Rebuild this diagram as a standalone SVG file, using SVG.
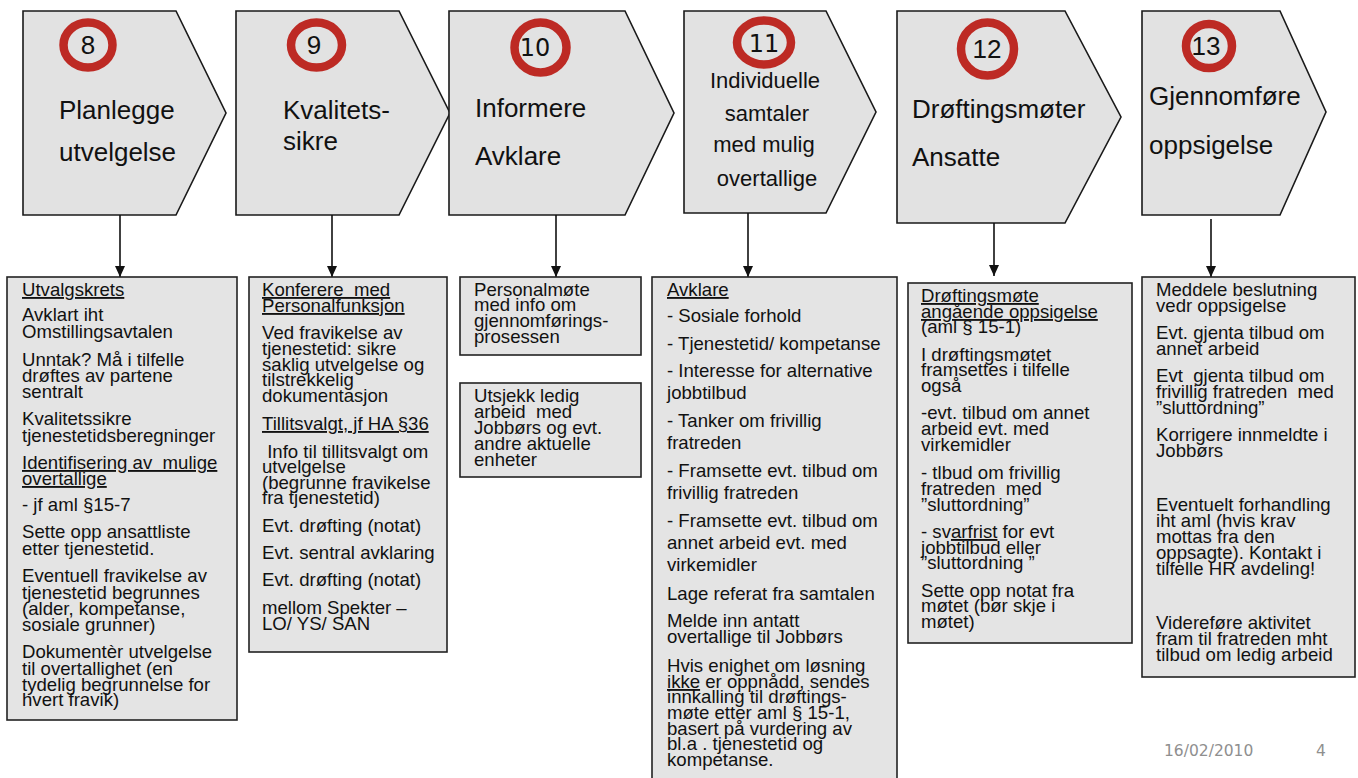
<svg xmlns="http://www.w3.org/2000/svg" width="1358" height="778" viewBox="0 0 1358 778">
<defs>
<marker id="ah" markerWidth="11" markerHeight="10" refX="11" refY="5" orient="auto" markerUnits="userSpaceOnUse" viewBox="0 0 11 10">
<path d="M0,0 L11,5 L0,10 Z" fill="#111"/>
</marker>
<style>
.chev{fill:#e2e2e2;stroke:#1a1a1a;stroke-width:1.6}
.ring{fill:none;stroke:#bd2a24;stroke-width:8.5}
.num{font-family:"Liberation Sans",Arial,sans-serif;font-size:26px;fill:#111;text-anchor:middle}
.numv{font-family:"DejaVu Sans",Verdana,sans-serif;font-size:24px;fill:#111;text-anchor:middle}
.ttl{font-family:"Liberation Sans",Arial,sans-serif;font-size:26px;fill:#111}
.ttl2{font-family:"Liberation Sans",Arial,sans-serif;font-size:22px;fill:#111;text-anchor:middle}
.box{fill:#e4e4e4;stroke:#222;stroke-width:1.6}
.bt{font-family:"Liberation Sans",Arial,sans-serif;font-size:18.6px;fill:#111;white-space:pre}
.u{text-decoration:underline}
.conn{stroke:#111;stroke-width:1.6;fill:none}
.foot{font-family:"DejaVu Sans",Verdana,sans-serif;font-size:15.5px;fill:#8f8f8f}
</style>
</defs>
<rect width="1358" height="778" fill="#ffffff"/>

<g id="step8">
<path class="chev" d="M23,11 L176,11 L226,113 L176,215 L23,215 Z"/>
<ellipse class="ring" cx="88" cy="45" rx="24.5" ry="22.5"/>
<text class="num" x="88" y="54">8</text>
<text class="ttl" x="59" y="119">Planlegge</text>
<text class="ttl" x="59" y="161">utvelgelse</text>
</g>

<g id="step9">
<path class="chev" d="M236,11 L399,11 L450,113 L399,215 L236,215 Z"/>
<ellipse class="ring" cx="316.5" cy="45" rx="25.5" ry="22.5"/>
<text class="num" x="314" y="54">9</text>
<text class="ttl" x="283" y="119">Kvalitets-</text>
<text class="ttl" x="283" y="150">sikre</text>
</g>

<g id="step10">
<path class="chev" d="M449,11 L625,11 L674,113 L625,215 L449,215 Z"/>
<ellipse class="ring" cx="540.5" cy="47.5" rx="26" ry="25"/>
<text class="numv" x="535" y="56">10</text>
<text class="ttl" x="475" y="117">Informere</text>
<text class="ttl" x="475" y="165">Avklare</text>
</g>

<g id="step11">
<path class="chev" d="M684,11 L826,11 L876,112 L826,213 L684,213 Z"/>
<ellipse class="ring" cx="764" cy="42.5" rx="27" ry="22"/>
<text class="numv" x="764" y="52">11</text>
<text class="ttl2" x="765" y="88">Individuelle</text>
<text class="ttl2" x="767" y="121">samtaler</text>
<text class="ttl2" x="764" y="152">med mulig</text>
<text class="ttl2" x="767" y="186">overtallige</text>
</g>

<g id="step12">
<path class="chev" d="M897,11 L1065,11 L1121,117 L1065,223 L897,223 Z"/>
<ellipse class="ring" cx="987.5" cy="49" rx="26.5" ry="26.5"/>
<text class="num" x="987" y="58">12</text>
<text class="ttl" x="912" y="118">Drøftingsmøter</text>
<text class="ttl" x="912" y="166">Ansatte</text>
</g>

<g id="step13">
<path class="chev" d="M1142,11 L1280,11 L1326,112 L1280,215 L1142,215 Z"/>
<ellipse class="ring" cx="1209" cy="46" rx="23" ry="22"/>
<text class="num" x="1206" y="55">13</text>
<text class="ttl" x="1149" y="105">Gjennomføre</text>
<text class="ttl" x="1149" y="154">oppsigelse</text>
</g>

<g id="connectors">
<line class="conn" x1="120" y1="215" x2="120" y2="277" marker-end="url(#ah)"/>
<line class="conn" x1="332" y1="215" x2="332" y2="277" marker-end="url(#ah)"/>
<line class="conn" x1="556" y1="215" x2="556" y2="277" marker-end="url(#ah)"/>
<line class="conn" x1="748" y1="213" x2="748" y2="277" marker-end="url(#ah)"/>
<line class="conn" x1="994" y1="223" x2="994" y2="276" marker-end="url(#ah)"/>
<line class="conn" x1="1211" y1="219" x2="1211" y2="277" marker-end="url(#ah)"/>
</g>

<g id="box8">
<rect class="box" x="7" y="277" width="230" height="443"/>
<text class="bt" x="22" y="296"><tspan class="u">Utvalgskrets</tspan></text>
<text class="bt" x="22" y="321">Avklart iht</text>
<text class="bt" x="22" y="338">Omstillingsavtalen</text>
<text class="bt" x="22" y="366">Unntak? Må i tilfelle</text>
<text class="bt" x="22" y="382">drøftes av partene</text>
<text class="bt" x="22" y="398">sentralt</text>
<text class="bt" x="22" y="425">Kvalitetssikre</text>
<text class="bt" x="22" y="442">tjenestetidsberegninger</text>
<text class="bt" x="22" y="469"><tspan class="u">Identifisering av  mulige</tspan></text>
<text class="bt" x="22" y="485"><tspan class="u">overtallige</tspan></text>
<text class="bt" x="22" y="511">- jf aml §15-7</text>
<text class="bt" x="22" y="538">Sette opp ansattliste</text>
<text class="bt" x="22" y="555">etter tjenestetid.</text>
<text class="bt" x="22" y="582">Eventuell fravikelse av</text>
<text class="bt" x="22" y="599">tjenestetid begrunnes</text>
<text class="bt" x="22" y="615">(alder, kompetanse,</text>
<text class="bt" x="22" y="631">sosiale grunner)</text>
<text class="bt" x="22" y="658">Dokumentèr utvelgelse</text>
<text class="bt" x="22" y="675">til overtallighet (en</text>
<text class="bt" x="22" y="691">tydelig begrunnelse for</text>
<text class="bt" x="22" y="706">hvert fravik)</text>
</g>

<g id="box9">
<rect class="box" x="249" y="277" width="198" height="375"/>
<text class="bt" x="262" y="296"><tspan class="u">Konferere  med</tspan></text>
<text class="bt" x="262" y="312"><tspan class="u">Personalfunksjon</tspan></text>
<text class="bt" x="262" y="339">Ved fravikelse av</text>
<text class="bt" x="262" y="355">tjenestetid: sikre</text>
<text class="bt" x="262" y="371">saklig utvelgelse og</text>
<text class="bt" x="262" y="386">tilstrekkelig</text>
<text class="bt" x="262" y="402">dokumentasjon</text>
<text class="bt" x="262" y="430"><tspan class="u">Tillitsvalgt, jf HA §36</tspan></text>
<text class="bt" x="262" y="458"> Info til tillitsvalgt om</text>
<text class="bt" x="262" y="473">utvelgelse</text>
<text class="bt" x="262" y="489">(begrunne fravikelse</text>
<text class="bt" x="262" y="504">fra tjenestetid)</text>
<text class="bt" x="262" y="532">Evt. drøfting (notat)</text>
<text class="bt" x="262" y="559">Evt. sentral avklaring</text>
<text class="bt" x="262" y="586">Evt. drøfting (notat)</text>
<text class="bt" x="262" y="614">mellom Spekter –</text>
<text class="bt" x="262" y="630">LO/ YS/ SAN</text>
</g>

<g id="box10a">
<rect class="box" x="460" y="277" width="181" height="78"/>
<text class="bt" x="474" y="296">Personalmøte</text>
<text class="bt" x="474" y="311">med info om</text>
<text class="bt" x="474" y="327">gjennomførings-</text>
<text class="bt" x="474" y="343">prosessen</text>
</g>

<g id="box10b">
<rect class="box" x="460" y="383" width="181" height="94"/>
<text class="bt" x="474" y="402">Utsjekk ledig</text>
<text class="bt" x="474" y="418">arbeid  med</text>
<text class="bt" x="474" y="434">Jobbørs og evt.</text>
<text class="bt" x="474" y="450">andre aktuelle</text>
<text class="bt" x="474" y="466">enheter</text>
</g>

<g id="box11">
<rect class="box" x="652" y="277" width="245" height="502"/>
<text class="bt" x="667" y="296"><tspan class="u">Avklare</tspan></text>
<text class="bt" x="667" y="322">- Sosiale forhold</text>
<text class="bt" x="667" y="350">- Tjenestetid/ kompetanse</text>
<text class="bt" x="667" y="377">- Interesse for alternative</text>
<text class="bt" x="667" y="399">jobbtilbud</text>
<text class="bt" x="667" y="427">- Tanker om frivillig</text>
<text class="bt" x="667" y="449">fratreden</text>
<text class="bt" x="667" y="477">- Framsette evt. tilbud om</text>
<text class="bt" x="667" y="499">frivillig fratreden</text>
<text class="bt" x="667" y="527">- Framsette evt. tilbud om</text>
<text class="bt" x="667" y="549">annet arbeid evt. med</text>
<text class="bt" x="667" y="571">virkemidler</text>
<text class="bt" x="667" y="600">Lage referat fra samtalen</text>
<text class="bt" x="667" y="627">Melde inn antatt</text>
<text class="bt" x="667" y="643">overtallige til Jobbørs</text>
<text class="bt" x="667" y="672">Hvis enighet om løsning</text>
<text class="bt" x="667" y="688"><tspan class="u">ikke</tspan> er oppnådd, sendes</text>
<text class="bt" x="667" y="703">innkalling til drøftings-</text>
<text class="bt" x="667" y="719">møte etter aml § 15-1,</text>
<text class="bt" x="667" y="735">basert på vurdering av</text>
<text class="bt" x="667" y="750">bl.a . tjenestetid og</text>
<text class="bt" x="667" y="766">kompetanse.</text>
</g>

<g id="box12">
<rect class="box" x="908" y="283" width="224" height="360"/>
<text class="bt" x="921" y="302"><tspan class="u">Drøftingsmøte</tspan></text>
<text class="bt" x="921" y="318"><tspan class="u">angående oppsigelse</tspan></text>
<text class="bt" x="921" y="333">(aml § 15-1)</text>
<text class="bt" x="921" y="361">I drøftingsmøtet</text>
<text class="bt" x="921" y="376">framsettes i tilfelle</text>
<text class="bt" x="921" y="392">også</text>
<text class="bt" x="921" y="419">-evt. tilbud om annet</text>
<text class="bt" x="921" y="435">arbeid evt. med</text>
<text class="bt" x="921" y="451">virkemidler</text>
<text class="bt" x="921" y="479">- tlbud om frivillig</text>
<text class="bt" x="921" y="495">fratreden  med</text>
<text class="bt" x="921" y="511">”sluttordning”</text>
<text class="bt" x="921" y="538">- sv<tspan class="u">arfrist</tspan> for evt</text>
<text class="bt" x="921" y="554">jobbtilbud eller</text>
<text class="bt" x="921" y="569">”sluttordning ”</text>
<text class="bt" x="921" y="597">Sette opp notat fra</text>
<text class="bt" x="921" y="612">møtet (bør skje i</text>
<text class="bt" x="921" y="628">møtet)</text>
</g>

<g id="box13">
<rect class="box" x="1142" y="277" width="213" height="400"/>
<text class="bt" x="1156" y="296">Meddele beslutning</text>
<text class="bt" x="1156" y="312">vedr oppsigelse</text>
<text class="bt" x="1156" y="339">Evt. gjenta tilbud om</text>
<text class="bt" x="1156" y="355">annet arbeid</text>
<text class="bt" x="1156" y="382">Evt  gjenta tilbud om</text>
<text class="bt" x="1156" y="398">frivillig fratreden  med</text>
<text class="bt" x="1156" y="414">”sluttordning”</text>
<text class="bt" x="1156" y="441">Korrigere innmeldte i</text>
<text class="bt" x="1156" y="457">Jobbørs</text>
<text class="bt" x="1156" y="511">Eventuelt forhandling</text>
<text class="bt" x="1156" y="527">iht aml (hvis krav</text>
<text class="bt" x="1156" y="543">mottas fra den</text>
<text class="bt" x="1156" y="559">oppsagte). Kontakt i</text>
<text class="bt" x="1156" y="575">tilfelle HR avdeling!</text>
<text class="bt" x="1156" y="629">Videreføre aktivitet</text>
<text class="bt" x="1156" y="645">fram til fratreden mht</text>
<text class="bt" x="1156" y="661">tilbud om ledig arbeid</text>
</g>

<g id="footer">
<text class="foot" x="1164" y="756">16/02/2010</text>
<text class="foot" x="1316" y="756">4</text>
</g>
</svg>
